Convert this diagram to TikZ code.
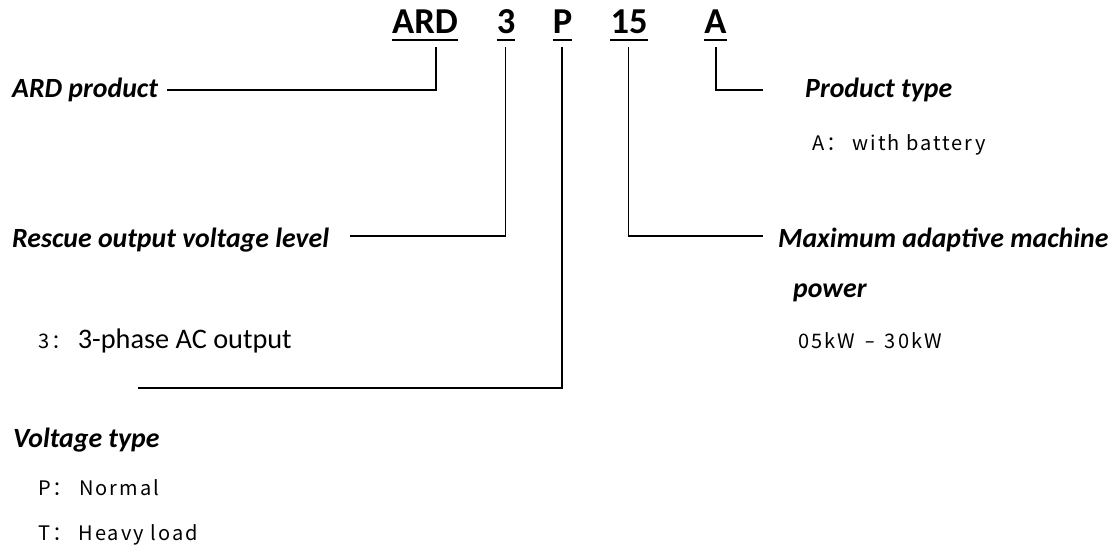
\documentclass[tikz,border=0pt]{standalone}
\usepackage{fontspec}
\setmainfont{Carlito}
\newfontfamily\cjk[LetterSpace=10]{Noto Sans CJK SC}
\begin{document}
\begin{tikzpicture}[x=1pt,y=-1pt,
  code/.style={font=\fontsize{36.5}{40}\selectfont\bfseries, inner sep=0pt, anchor=base},
  uline/.style={line width=2.6pt},
  conn/.style={line width=1.4pt},
  lbl/.style={font=\fontsize{27.8}{30}\selectfont\bfseries\itshape, inner sep=0pt, anchor=base west},
  desc/.style={font=\fontsize{20}{24}\selectfont\cjk, inner sep=0pt, anchor=base west},
  descc/.style={font=\fontsize{28.3}{30}\selectfont, inner sep=0pt, anchor=base west}]
\useasboundingbox (0,0) rectangle (1118,554);
% code letters
\node[code] (ARD) at (425,33) {ARD};
\node[code] (N3) at (506,33) {3};
\node[code] (P) at (562.5,33) {P};
\node[code] (N15) at (629,33) {15};
\node[code] (A) at (715.5,33) {A};
\foreach \n in {ARD,N3,P,N15,A}
  \draw[uline] ([yshift=-7pt]\n.base west) -- ([yshift=-7pt]\n.base east);
% labels
\node[lbl] (lARD) at (12,97) {ARD product};
\node[lbl] (lPT) at (805,97) {Product type};
\node[desc] (dA) at (812,150) {A：\ with battery};
\node[lbl] (lRes) at (12,247) {Rescue output voltage level};
\node[lbl] (lMax) at (778,247) {Maximum adaptive machine};
\node[lbl] (lPow) at (793,297) {power};
\node[desc] (dKW) at (798,348) {05kW\hspace{3pt} {\rmfamily\fontsize{22}{24}\selectfont –}\hspace{3pt} 30kW};
\node[descc] (d3) at (38,348) {{\cjk\fontsize{20}{24}\selectfont 3：\ }3-phase AC output};
\node[lbl] (lVT) at (13,447) {Voltage type};
\node[desc] (dP) at (38,495) {P：\ Normal};
\node[desc] (dT) at (38,540) {T：\ Heavy load};
% connector endpoints
\coordinate (sARD) at (436,47);  \coordinate (eARD) at (167,90);
\coordinate (s3) at (505.5,47);  \coordinate (e3) at (350,236);
\coordinate (sP) at (562,47);    \coordinate (eP) at (138,388);
\coordinate (s15) at (628.5,47); \coordinate (e15) at (763,236);
\coordinate (sA) at (716,47);    \coordinate (eA) at (763,90);
\draw[conn] (sARD) |- (eARD);
\draw[conn] (s3) |- (e3);
\draw[conn] (sP) |- (eP);
\draw[conn] (s15) |- (e15);
\draw[conn] (sA) |- (eA);
\end{tikzpicture}
\end{document}
